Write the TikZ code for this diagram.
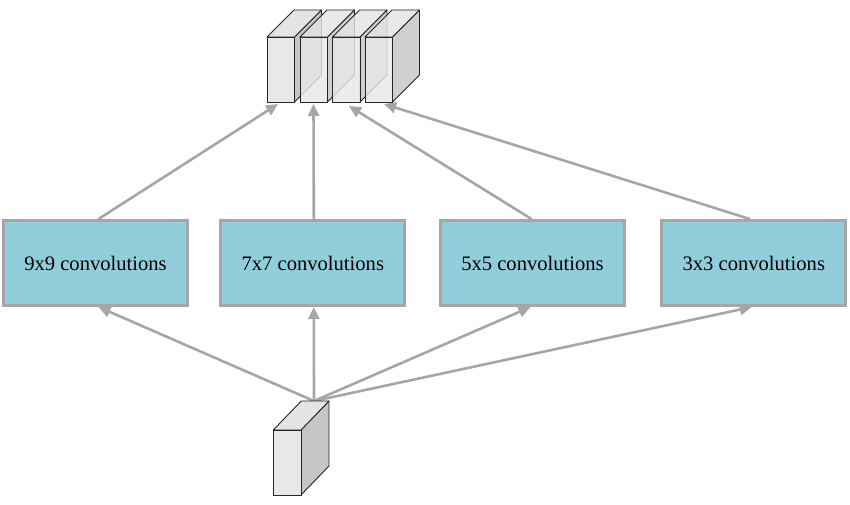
\documentclass[tikz,border=0pt]{standalone}
\usepackage{fontspec}
\setmainfont{Liberation Serif}
\usetikzlibrary{arrows.meta}
\definecolor{boxfill}{HTML}{92CDDC}
\definecolor{linegray}{HTML}{A6A6A6}
\definecolor{frontgray}{HTML}{E8E8E8}
\definecolor{topgray}{HTML}{E4E4E4}
\definecolor{sidegray}{HTML}{C6C6C6}
\definecolor{edgegray}{HTML}{262626}
\newcommand\mycube[7]{%
  \begin{scope}[fill opacity=#7, draw=edgegray, line width=0.9pt, line join=round]
    \filldraw[fill=sidegray] (#1+#3,#2) -- ++(#5,-#6) -- ++(0,#4) -- (#1+#3,#2+#4) -- cycle;
    \filldraw[fill=topgray] (#1,#2) -- ++(#5,-#6) -- ++(#3,0) -- (#1+#3,#2) -- cycle;
    \filldraw[fill=frontgray] (#1,#2) rectangle (#1+#3,#2+#4);
  \end{scope}}
\tikzset{
  convbox/.style={draw=linegray, line width=3pt, fill=boxfill,
    minimum width=184pt, minimum height=85pt, inner sep=0pt,
    font=\rmfamily\fontsize{20.6}{24}\selectfont},
  arr/.style={draw=linegray, line width=2.6pt,
    -{Triangle[length=12pt,width=11pt]}}
}
\begin{document}
\begin{tikzpicture}[x=1pt,y=-1pt]
\useasboundingbox (0,0) rectangle (850,505);
% boxes
\node[convbox] (b9) at (95.5,263) {9x9 convolutions};
\node[convbox] (b7) at (312.8,263) {7x7 convolutions};
\node[convbox] (b5) at (532.5,263) {5x5 convolutions};
\node[convbox] (b3) at (753.8,263) {3x3 convolutions};
% arrow endpoints
\coordinate (t1) at (278,104);
\coordinate (t2) at (313.5,104);
\coordinate (t3) at (349,106);
\coordinate (t4) at (384,104);
\coordinate (src) at (314,401);
% arrows
\draw[arr] (b9.north) ++(3,0) -- (t1);
\draw[arr] (b7.north) ++(1,0) -- (t2);
\draw[arr] (b5.north) ++(-1,0) -- (t3);
\draw[arr] (b3.north) ++(-4,0) -- (t4);
\draw[arr] (src) -- ([xshift=3pt]b9.south);
\draw[arr] (src) -- ([xshift=1pt]b7.south);
\draw[arr] (src) -- ([xshift=-2pt]b5.south);
\draw[arr] (src) -- ([xshift=-2pt]b3.south);
% top stack of cubes
\mycube{267}{37}{27.5}{65}{27}{27}{1}
\mycube{300}{37}{27.5}{65}{27}{27}{0.82}
\mycube{332.5}{37}{27.5}{65}{27}{27}{0.82}
\mycube{365}{37}{27.5}{65}{27}{27}{0.82}
% bottom cube
\mycube{273.3}{430}{27.7}{65}{28}{29}{1}
\end{tikzpicture}
\end{document}
